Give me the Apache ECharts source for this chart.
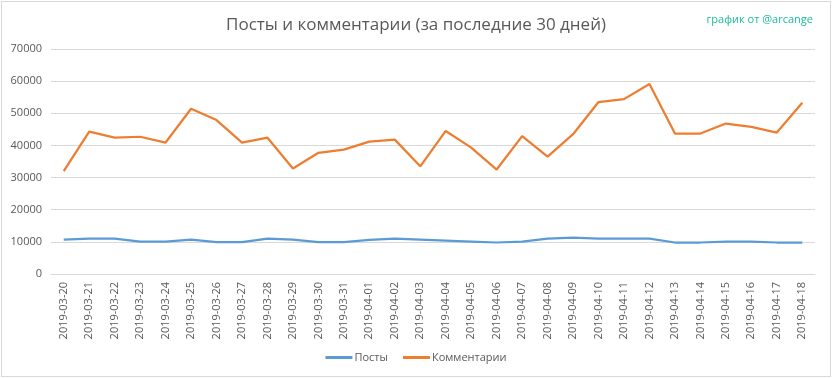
<!DOCTYPE html>
<html>
<head>
<meta charset="utf-8">
<script src="https://cdn.jsdelivr.net/npm/echarts@6/dist/echarts.min.js"></script>
<style>
  html, body { margin: 0; padding: 0; background: #fff; }
  #chart { position: absolute; left: 1px; top: 1px; width: 828px; height: 374px; border: 1px solid #d9d9d9; }
</style>
</head>
<body>
<div id="chart"></div>
<script>
// даты за последние 30 дней
const dates = [
  '2019-03-20', '2019-03-21', '2019-03-22', '2019-03-23', '2019-03-24', '2019-03-25',
  '2019-03-26', '2019-03-27', '2019-03-28', '2019-03-29', '2019-03-30', '2019-03-31',
  '2019-04-01', '2019-04-02', '2019-04-03', '2019-04-04', '2019-04-05', '2019-04-06',
  '2019-04-07', '2019-04-08', '2019-04-09', '2019-04-10', '2019-04-11', '2019-04-12',
  '2019-04-13', '2019-04-14', '2019-04-15', '2019-04-16', '2019-04-17', '2019-04-18'
]

// посты
const posts = [
  10700, 11000, 11000, 10100, 10100, 10700, 9900, 9900, 11000, 10700,
  9900, 9900, 10600, 11000, 10700, 10400, 10100, 9800, 10100, 11000,
  11350, 11000, 11000, 11000, 9800, 9800, 10100, 10100, 9800, 9800
]

// комментарии
const comments = [
  32000, 44300, 42400, 42700, 40900, 51400, 47900, 40900, 42400, 32800,
  37700, 38700, 41200, 41800, 33500, 44500, 39300, 32500, 42900, 36500,
  43500, 53500, 54400, 59100, 43700, 43700, 46800, 45800, 44000, 53300
]

const chart = echarts.init(document.getElementById('chart'))

chart.setOption({
  animation: false,
  color: ['#5b9bd5', '#ed7d31'],
  textStyle: { fontFamily: 'Open Sans, sans-serif' },
  title: [
    {
      text: 'Посты и комментарии (за последние 30 дней)',
      left: 'center',
      top: 10,
      textStyle: { fontSize: 17, fontWeight: 'normal', color: '#595959', fontFamily: 'Open Sans' }
    },
    {
      text: 'график от @arcange',
      right: 12,
      top: 7,
      textStyle: { fontSize: 11, fontWeight: 'normal', color: '#1abc9c', fontFamily: 'Open Sans' }
    }
  ],
  legend: {
    bottom: 8,
    left: 'center',
    itemWidth: 27,
    itemHeight: 3,
    itemGap: 15,
    icon: 'rect',
    textStyle: { fontSize: 11, color: '#595959', padding: [0, 0, 0, -3] },
    data: ['Посты', 'Комментарии']
  },
  grid: { left: 49, right: 15, top: 47, bottom: 102, containLabel: false },
  xAxis: {
    type: 'category',
    data: dates,
    boundaryGap: true,
    axisLine: { show: true, lineStyle: { color: '#d9d9d9' } },
    axisTick: { show: false },
    axisLabel: { rotate: 90, interval: 0, fontSize: 11, color: '#595959', margin: 8 }
  },
  yAxis: {
    type: 'value',
    min: 0,
    max: 70000,
    interval: 10000,
    axisLine: { show: false },
    axisTick: { show: false },
    axisLabel: { fontSize: 11, color: '#595959', margin: 9, formatter: v => String(v) },
    splitLine: { lineStyle: { color: '#d9d9d9' } }
  },
  series: [
    {
      name: 'Посты',
      type: 'line',
      data: posts,
      showSymbol: false,
      lineStyle: { width: 2.25 }
    },
    {
      name: 'Комментарии',
      type: 'line',
      data: comments,
      showSymbol: false,
      lineStyle: { width: 2.25 }
    }
  ]
})
</script>
</body>
</html>
